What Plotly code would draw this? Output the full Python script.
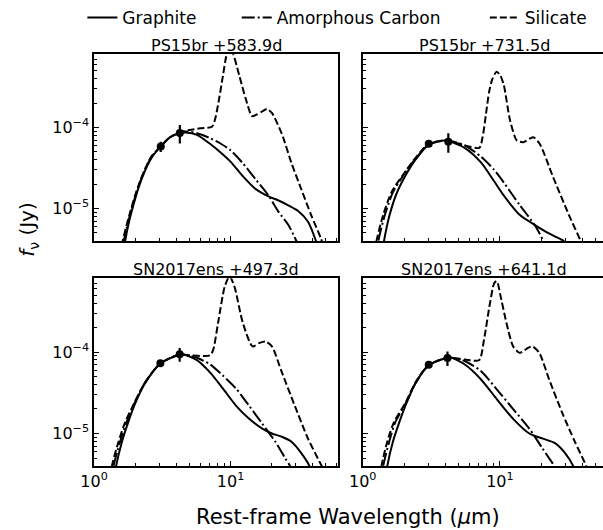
import plotly.graph_objects as go

# ---------------- data (wavelength in micron, log10 flux in Jy) ----------------
titles = ["PS15br +583.9d", "PS15br +731.5d", "SN2017ens +497.3d", "SN2017ens +641.1d"]
series_names = ["Graphite", "Amorphous Carbon", "Silicate"]

# Panel 1: PS15br +583.9d
p1_gra_wl = [1.60, 1.69, 1.80, 1.94, 2.10, 2.35, 2.62, 3.09, 3.6, 4.25, 4.7, 5.68, 7.07, 8.5, 10.0, 12.3, 15.3, 19.0, 22.5, 26.5, 31.3, 36.9, 42.3, 46]
p1_gra_lf = [-5.70, -5.40, -5.17, -4.96, -4.76, -4.54, -4.38, -4.23, -4.12, -4.07, -4.06, -4.09, -4.20, -4.31, -4.42, -4.60, -4.76, -4.85, -4.90, -4.96, -5.03, -5.16, -5.40, -5.60]
p1_amc_wl = [1.55, 1.65, 1.80, 1.94, 2.10, 2.35, 2.62, 3.09, 3.6, 4.25, 4.8, 5.68, 7.07, 8.5, 10.0, 12.3, 15.3, 19.0, 22.5, 26.5, 30.4, 34]
p1_amc_lf = [-5.70, -5.40, -5.13, -4.93, -4.74, -4.53, -4.37, -4.23, -4.12, -4.06, -4.05, -4.07, -4.13, -4.20, -4.28, -4.44, -4.64, -4.84, -5.04, -5.20, -5.40, -5.60]
p1_sil_wl = [1.50, 1.62, 1.80, 1.94, 2.10, 2.35, 2.62, 3.09, 3.6, 4.25, 5.0, 6.0, 7.3, 7.7, 8.1, 8.8, 9.3, 9.8, 10.5, 11.6, 12.9, 14.4, 15.5, 17.1, 18.5, 20.1, 23.8, 28.0, 33.0, 39.0, 46.0, 50]
p1_sil_lf = [-5.70, -5.40, -5.10, -4.91, -4.73, -4.52, -4.36, -4.23, -4.12, -4.06, -4.03, -4.01, -3.99, -3.90, -3.72, -3.36, -3.12, -3.00, -3.10, -3.36, -3.64, -3.86, -3.84, -3.80, -3.77, -3.82, -4.08, -4.44, -4.76, -5.08, -5.37, -5.55]
p1_obs_wl = [3.08, 4.25]
p1_obs_f = [5.85e-5, 8.55e-5]
p1_obs_err = [0.85e-5, 2.2e-5]

# Panel 2: PS15br +731.5d
p2_gra_wl = [1.36, 1.43, 1.57, 1.76, 2.07, 2.44, 3.03, 3.99, 5.53, 7.28, 9.06, 10.7, 14.0, 17.9, 23.0, 28.6, 33]
p2_gra_lf = [-5.65, -5.40, -5.08, -4.82, -4.58, -4.39, -4.21, -4.16, -4.25, -4.43, -4.66, -4.84, -5.08, -5.20, -5.31, -5.39, -5.48]
p2_amc_wl = [1.25, 1.30, 1.45, 1.66, 2.07, 2.44, 3.03, 4.10, 5.53, 7.28, 9.06, 10.7, 14.0, 17.9, 20.6, 22.5]
p2_amc_lf = [-5.65, -5.40, -5.08, -4.80, -4.54, -4.38, -4.21, -4.16, -4.22, -4.36, -4.52, -4.68, -4.96, -5.20, -5.39, -5.60]
p2_sil_wl = [1.20, 1.26, 1.41, 1.62, 2.07, 2.44, 3.03, 4.10, 5.53, 7.08, 7.48, 7.91, 8.35, 8.82, 9.47, 10.1, 10.7, 11.9, 13.3, 14.8, 17.5, 19.5, 24.3, 31.9, 38.6, 42]
p2_sil_lf = [-5.65, -5.40, -5.08, -4.80, -4.53, -4.37, -4.20, -4.16, -4.22, -4.25, -4.12, -3.84, -3.56, -3.40, -3.31, -3.36, -3.48, -3.92, -4.16, -4.18, -4.12, -4.20, -4.60, -5.08, -5.39, -5.55]
p2_obs_wl = [3.03, 4.21]
p2_obs_f = [6.3e-5, 6.7e-5]
p2_obs_err = [0.4e-5, 1.8e-5]

# Panel 3: SN2017ens +497.3d
p3_gra_wl = [1.38, 1.45, 1.60, 1.78, 1.99, 2.35, 3.06, 4.24, 4.55, 5.67, 7.07, 8.81, 11.0, 13.7, 17.1, 20.1, 23.8, 28.0, 33.0, 37.9, 40]
p3_gra_lf = [-5.65, -5.40, -5.10, -4.86, -4.64, -4.39, -4.14, -4.03, -4.03, -4.10, -4.25, -4.45, -4.66, -4.82, -4.94, -5.00, -5.04, -5.10, -5.24, -5.40, -5.55]
p3_amc_wl = [1.33, 1.39, 1.55, 1.73, 1.99, 2.35, 3.06, 4.24, 4.55, 5.67, 7.07, 8.81, 11.0, 13.7, 17.1, 21.3, 25.1, 27.3, 29.5]
p3_amc_lf = [-5.65, -5.40, -5.10, -4.86, -4.62, -4.38, -4.14, -4.03, -4.03, -4.07, -4.15, -4.29, -4.45, -4.66, -4.88, -5.10, -5.30, -5.40, -5.60]
p3_sil_wl = [1.29, 1.35, 1.51, 1.69, 1.99, 2.35, 3.06, 4.24, 5.08, 7.07, 7.47, 8.11, 9.06, 9.84, 10.7, 12.3, 14.5, 16.2, 18.0, 20.1, 23.8, 29.6, 36.9, 46.0, 50]
p3_sil_lf = [-5.65, -5.40, -5.10, -4.86, -4.61, -4.38, -4.14, -4.03, -4.04, -4.04, -3.97, -3.64, -3.20, -3.07, -3.20, -3.64, -3.93, -3.89, -3.87, -3.93, -4.25, -4.66, -5.06, -5.38, -5.50]
p3_obs_wl = [3.06, 4.24]
p3_obs_f = [7.3e-5, 9.4e-5]
p3_obs_err = [0.5e-5, 1.8e-5]

# Panel 4: SN2017ens +641.1d
p4_gra_wl = [1.44, 1.51, 1.66, 1.85, 2.07, 2.43, 3.03, 4.15, 4.44, 5.52, 7.24, 9.52, 12.5, 16.4, 20.4, 25.4, 29.9, 34.3, 37]
p4_gra_lf = [-5.65, -5.40, -5.10, -4.86, -4.64, -4.38, -4.16, -4.07, -4.07, -4.15, -4.33, -4.58, -4.82, -5.00, -5.06, -5.12, -5.24, -5.40, -5.55]
p4_amc_wl = [1.35, 1.41, 1.56, 1.73, 2.07, 2.43, 3.03, 4.15, 4.44, 5.52, 7.24, 9.52, 12.5, 16.4, 20.4, 24.1, 25.0, 27]
p4_amc_lf = [-5.65, -5.40, -5.10, -4.86, -4.62, -4.38, -4.16, -4.07, -4.07, -4.11, -4.23, -4.46, -4.70, -4.94, -5.18, -5.36, -5.40, -5.60]
p4_sil_wl = [1.31, 1.37, 1.51, 1.69, 2.07, 2.43, 3.03, 4.15, 5.52, 7.05, 7.66, 8.45, 9.12, 9.52, 10.05, 11.2, 12.5, 13.96, 16.0, 17.3, 19.4, 22.8, 28.4, 35.2, 42.7, 46]
p4_sil_lf = [-5.65, -5.40, -5.10, -4.86, -4.61, -4.37, -4.16, -4.07, -4.09, -4.10, -3.85, -3.41, -3.15, -3.13, -3.29, -3.65, -3.93, -4.01, -3.95, -3.93, -4.01, -4.33, -4.74, -5.10, -5.40, -5.55]
p4_obs_wl = [3.03, 4.15]
p4_obs_f = [6.97e-5, 8.46e-5]
p4_obs_err = [0.4e-5, 1.7e-5]

panels = [
    (p1_gra_wl, p1_gra_lf, p1_amc_wl, p1_amc_lf, p1_sil_wl, p1_sil_lf, p1_obs_wl, p1_obs_f, p1_obs_err),
    (p2_gra_wl, p2_gra_lf, p2_amc_wl, p2_amc_lf, p2_sil_wl, p2_sil_lf, p2_obs_wl, p2_obs_f, p2_obs_err),
    (p3_gra_wl, p3_gra_lf, p3_amc_wl, p3_amc_lf, p3_sil_wl, p3_sil_lf, p3_obs_wl, p3_obs_f, p3_obs_err),
    (p4_gra_wl, p4_gra_lf, p4_amc_wl, p4_amc_lf, p4_sil_wl, p4_sil_lf, p4_obs_wl, p4_obs_f, p4_obs_err),
]

x_major = [1, 10]
x_major_text = ["10<sup>0</sup>", "10<sup>1</sup>"]
x_minor = [2, 3, 4, 5, 6, 7, 8, 9, 20, 30, 40, 50, 60]
y_major = [1e-5, 1e-4]
y_major_text = ["10<sup>\u22125</sup>", "10<sup>\u22124</sup>"]
y_minor = [5e-6, 6e-6, 7e-6, 8e-6, 9e-6, 2e-5, 3e-5, 4e-5, 5e-5, 6e-5, 7e-5, 8e-5, 9e-5, 2e-4, 3e-4, 4e-4, 5e-4, 6e-4, 7e-4]

# ---------------- styling / layout ----------------
W, H = 603, 530
FONT = "DejaVu Sans"
dashes = ["solid", "13px,3px,2px,3px", "7px,3px"]
LW = 2

def px_x(p):
    return p / W

def px_y(p):
    return 1 - p / H

xdom = [[px_x(82), px_x(332)], [px_x(357), 1.0]]
ydom = [[px_y(236), px_y(46)], [px_y(465), px_y(274)]]
xranges = [[0, 1.79], [0, 1.752]]
yrange = [-5.40, -3.095]

fig = go.Figure()
legend_ids = ["legend", "legend2", "legend3"]

for i, pan in enumerate(panels):
    r, c = divmod(i, 2)
    ax = "" if i == 0 else str(i + 1)
    curves = [(pan[0], pan[1]), (pan[2], pan[3]), (pan[4], pan[5])]
    for k, (wl, lf) in enumerate(curves):
        fig.add_trace(go.Scatter(
            x=wl, y=[10 ** v for v in lf], mode="lines",
            line=dict(color="black", width=LW, dash=dashes[k], shape="spline", smoothing=0.7),
            name=series_names[k], showlegend=(i == 0), legend=legend_ids[k],
            xaxis="x" + ax, yaxis="y" + ax, hoverinfo="skip",
        ))
    fig.add_trace(go.Scatter(
        x=pan[6], y=pan[7], mode="markers",
        marker=dict(color="black", size=8),
        error_y=dict(type="data", array=pan[8], color="black", thickness=2.2, width=0),
        showlegend=False, xaxis="x" + ax, yaxis="y" + ax, hoverinfo="skip",
    ))

    xa = dict(
        type="log", domain=xdom[c], range=xranges[c], anchor="y" + ax,
        showline=True, linecolor="black", linewidth=1.6, mirror=True,
        showgrid=False, zeroline=False,
        ticks="inside", ticklen=5, tickwidth=1.2, tickcolor="black",
        tickmode="array", tickvals=x_major, ticktext=x_major_text,
        showticklabels=(r == 1),
        tickfont=dict(family=FONT, size=16, color="black"),
        minor=dict(ticks="inside", ticklen=3, tickwidth=1, tickcolor="black",
                   tickmode="array", tickvals=x_minor, showgrid=False),
    )
    ya = dict(
        type="log", domain=ydom[r], range=yrange, anchor="x" + ax,
        showline=True, linecolor="black", linewidth=1.6, mirror=(c == 0),
        showgrid=False, zeroline=False,
        ticks="inside", ticklen=5, tickwidth=1.2, tickcolor="black",
        tickmode="array", tickvals=y_major, ticktext=y_major_text,
        showticklabels=(c == 0),
        tickfont=dict(family=FONT, size=16, color="black"),
        minor=dict(ticks="inside", ticklen=3, tickwidth=1, tickcolor="black",
                   tickmode="array", tickvals=y_minor, showgrid=False),
    )
    fig.update_layout(**{"xaxis" + ax: xa, "yaxis" + ax: ya})

# panel titles
title_y = [px_y(37), px_y(265)]
annotations = []
for i, t in enumerate(titles):
    r, c = divmod(i, 2)
    cx = (82 + 332) / 2 if c == 0 else (357 + 606) / 2
    annotations.append(dict(text=t, x=cx / W, y=title_y[r], xref="paper", yref="paper",
                            xanchor="center", yanchor="middle", showarrow=False,
                            font=dict(family=FONT, size=16, color="black")))
annotations.append(dict(text="Rest-frame Wavelength (<i>\u03bc</i>m)", x=342 / W, y=px_y(517),
                        xref="paper", yref="paper", xanchor="center", yanchor="middle",
                        showarrow=False, font=dict(family=FONT, size=21, color="black")))
annotations.append(dict(text="<i>f</i><sub>\u03bd</sub> (Jy)", x=15 / W, y=px_y(224),
                        xref="paper", yref="paper", xanchor="center", yanchor="middle",
                        textangle=-90, showarrow=False,
                        font=dict(family=FONT, size=20, color="black")))

leg_common = dict(orientation="h", yanchor="middle", y=px_y(9), xanchor="left",
                  bgcolor="rgba(0,0,0,0)", borderwidth=0,
                  font=dict(family=FONT, size=17, color="black"))
fig.update_layout(
    width=W, height=H, margin=dict(l=0, r=0, t=0, b=0),
    paper_bgcolor="white", plot_bgcolor="white",
    font=dict(family=FONT, color="black"),
    annotations=annotations,
    legend=dict(x=px_x(70), **leg_common),
    legend2=dict(x=px_x(228), **leg_common),
    legend3=dict(x=px_x(482), **leg_common),
)

fig.write_html("out.html", config={"displayModeBar": False},
               post_script="document.body.style.margin='0';document.body.style.overflow='hidden';")
